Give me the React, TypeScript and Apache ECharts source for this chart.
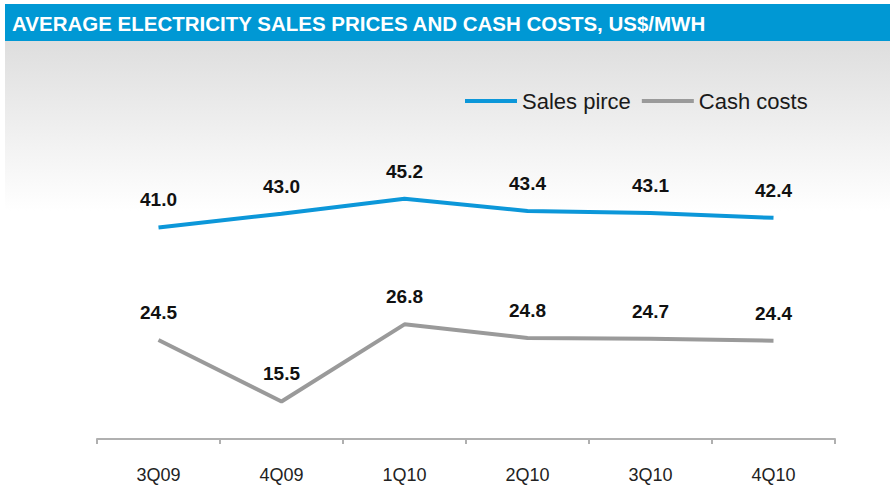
import React, { useEffect, useRef } from "react";
import * as echarts from "echarts";

const categories = ["3Q09", "4Q09", "1Q10", "2Q10", "3Q10", "4Q10"];
const salesPrice = [41.0, 43.0, 45.2, 43.4, 43.1, 42.4];
const cashCosts = [24.5, 15.5, 26.8, 24.8, 24.7, 24.4];
const seriesNames = ["Sales pirce", "Cash costs"];
const titleText = "AVERAGE ELECTRICITY SALES PRICES AND CASH COSTS, US$/MWH";

const FONT = "'Liberation Sans', Arial, sans-serif";

export default function App() {
  const ref = useRef<HTMLDivElement>(null);
  useEffect(() => {
    if (!ref.current) return;
    const chart = echarts.init(ref.current, null, { renderer: "svg" });
    const labelCfg = {
      show: true,
      position: "top" as const,
      distance: 18,
      fontFamily: FONT,
      fontSize: 19,
      fontWeight: "bold" as const,
      color: "#111",
      formatter: (p: any) => Number(p.value).toFixed(1),
    };
    chart.setOption({
      animation: false,
      backgroundColor: "#ffffff",
      graphic: [
        {
          type: "rect",
          z: -10,
          shape: { x: 5, y: 41, width: 885, height: 170 },
          style: {
            fill: new echarts.graphic.LinearGradient(0, 0, 0, 1, [
              { offset: 0, color: "#dedede" },
              { offset: 1, color: "#ffffff" },
            ]),
          },
        },
        {
          type: "rect",
          z: -10,
          shape: { x: 5, y: 4, width: 885, height: 37 },
          style: { fill: "#0098d4" },
        },
        {
          type: "text",
          z: -9,
          x: 12,
          y: 23,
          style: {
            text: titleText,
            fill: "#ffffff",
            font: `bold 20.5px ${FONT}`,
            verticalAlign: "middle",
          },
        },
      ],
      legend: {
        left: 460,
        top: 85,
        itemWidth: 52,
        itemHeight: 4,
        itemGap: 11,
        icon: "rect",
        textStyle: { fontFamily: FONT, fontSize: 22, color: "#1a1a1a" },
        data: seriesNames,
      },
      grid: { left: 97, right: 55, top: 166, bottom: 46 },
      xAxis: {
        type: "category",
        data: categories,
        boundaryGap: true,
        axisLine: { lineStyle: { color: "#b0b0b0", width: 2 } },
        axisTick: { show: true, length: 5, lineStyle: { color: "#b0b0b0", width: 2 } },
        axisLabel: { fontFamily: FONT, fontSize: 18, color: "#222", margin: 27 },
      },
      yAxis: {
        type: "value",
        min: 10,
        max: 50,
        show: false,
        splitLine: { show: false },
      },
      series: [
        {
          name: seriesNames[0],
          type: "line",
          data: salesPrice,
          symbol: "circle",
          symbolSize: 0.1,
          lineStyle: { color: "#0c97d9", width: 4 },
          itemStyle: { color: "#0c97d9" },
          label: labelCfg,
        },
        {
          name: seriesNames[1],
          type: "line",
          data: cashCosts,
          symbol: "circle",
          symbolSize: 0.1,
          lineStyle: { color: "#9a9a9a", width: 4 },
          itemStyle: { color: "#9a9a9a" },
          label: labelCfg,
        },
      ],
    });
    return () => chart.dispose();
  }, []);
  return (
    <div
      ref={ref}
      style={{ position: "absolute", left: 0, top: 0, width: 890, height: 485 }}
    />
  );
}
